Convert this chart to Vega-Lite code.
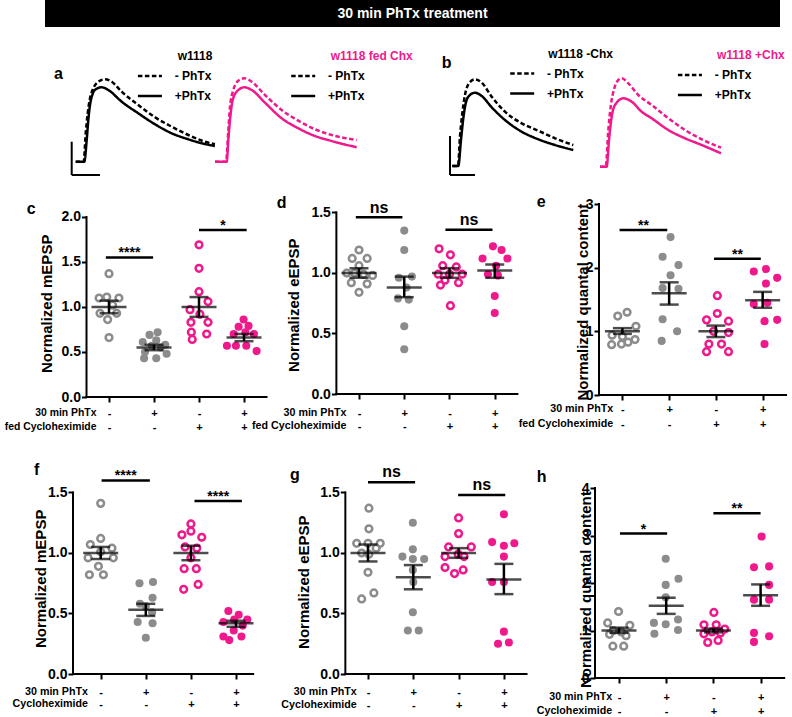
{
"$schema": "https://vega.github.io/schema/vega-lite/v6.json",
"background": "white",
"padding": 0,
"config": {
 "view": {"stroke": null},
 "font": "Liberation Sans",
 "axis": {"grid": false, "domain": false, "tickColor": "black", "tickWidth": 2, "tickSize": 5, "labelColor": "black", "labelFont": "Liberation Sans", "labelFontWeight": "bold", "titleColor": "black", "titleFont": "Liberation Sans", "titleFontWeight": "bold", "labelOverlap": false, "labelFlush": false},
 "legend": {"orient": "none", "titleFont": "Liberation Sans", "titleFontSize": 12, "titleFontWeight": "bold", "titleAnchor": "start", "titlePadding": -0.6, "labelFont": "Liberation Sans", "labelFontSize": 12, "labelFontWeight": "bold", "labelColor": "black", "labelOffset": 11.3, "symbolType": "stroke", "symbolSize": 576, "symbolStrokeWidth": 2.5, "symbolStrokeColor": "black", "rowPadding": -8.8}
},
"datasets": {
 "pts": [
  {"p":"c","g":1,"x":1.0,"y":1.37},{"p":"c","g":1,"x":0.78,"y":1.10},{"p":"c","g":1,"x":0.95,"y":1.11},{"p":"c","g":1,"x":1.22,"y":1.10},{"p":"c","g":1,"x":1.08,"y":1.02},{"p":"c","g":1,"x":0.80,"y":0.93},{"p":"c","g":1,"x":1.17,"y":0.93},{"p":"c","g":1,"x":0.97,"y":0.86},{"p":"c","g":1,"x":1.0,"y":0.66},
  {"p":"c","g":2,"x":2.08,"y":0.72},{"p":"c","g":2,"x":1.90,"y":0.69},{"p":"c","g":2,"x":2.05,"y":0.63},{"p":"c","g":2,"x":1.75,"y":0.61},{"p":"c","g":2,"x":2.25,"y":0.58},{"p":"c","g":2,"x":1.95,"y":0.57},{"p":"c","g":2,"x":2.15,"y":0.55},{"p":"c","g":2,"x":1.80,"y":0.50},{"p":"c","g":2,"x":2.28,"y":0.48},{"p":"c","g":2,"x":1.78,"y":0.43},{"p":"c","g":2,"x":2.05,"y":0.43},
  {"p":"c","g":3,"x":3.0,"y":1.69},{"p":"c","g":3,"x":3.0,"y":1.43},{"p":"c","g":3,"x":3.0,"y":1.17},{"p":"c","g":3,"x":3.2,"y":1.06},{"p":"c","g":3,"x":2.8,"y":0.97},{"p":"c","g":3,"x":3.02,"y":0.92},{"p":"c","g":3,"x":2.82,"y":0.83},{"p":"c","g":3,"x":3.2,"y":0.83},{"p":"c","g":3,"x":2.83,"y":0.72},{"p":"c","g":3,"x":3.17,"y":0.70},{"p":"c","g":3,"x":2.85,"y":0.64},
  {"p":"c","g":4,"x":3.99,"y":0.86},{"p":"c","g":4,"x":3.88,"y":0.78},{"p":"c","g":4,"x":4.1,"y":0.79},{"p":"c","g":4,"x":3.77,"y":0.70},{"p":"c","g":4,"x":4.03,"y":0.72},{"p":"c","g":4,"x":4.22,"y":0.70},{"p":"c","g":4,"x":3.62,"y":0.57},{"p":"c","g":4,"x":3.82,"y":0.57},{"p":"c","g":4,"x":4.05,"y":0.57},{"p":"c","g":4,"x":4.28,"y":0.51},
  {"p":"d","g":1,"x":1.0,"y":1.19},{"p":"d","g":1,"x":0.85,"y":1.12},{"p":"d","g":1,"x":1.18,"y":1.12},{"p":"d","g":1,"x":1.0,"y":1.06},{"p":"d","g":1,"x":0.73,"y":1.00},{"p":"d","g":1,"x":0.9,"y":1.00},{"p":"d","g":1,"x":1.1,"y":0.99},{"p":"d","g":1,"x":1.3,"y":0.98},{"p":"d","g":1,"x":0.83,"y":0.92},{"p":"d","g":1,"x":1.18,"y":0.91},{"p":"d","g":1,"x":1.0,"y":0.84},
  {"p":"d","g":2,"x":2.0,"y":1.35},{"p":"d","g":2,"x":2.0,"y":1.19},{"p":"d","g":2,"x":2.17,"y":0.97},{"p":"d","g":2,"x":1.88,"y":0.96},{"p":"d","g":2,"x":2.05,"y":0.88},{"p":"d","g":2,"x":1.86,"y":0.79},{"p":"d","g":2,"x":2.1,"y":0.78},{"p":"d","g":2,"x":2.0,"y":0.56},{"p":"d","g":2,"x":2.0,"y":0.37},
  {"p":"d","g":3,"x":2.77,"y":1.20},{"p":"d","g":3,"x":3.02,"y":1.15},{"p":"d","g":3,"x":2.85,"y":1.06},{"p":"d","g":3,"x":3.15,"y":1.05},{"p":"d","g":3,"x":2.75,"y":0.99},{"p":"d","g":3,"x":3.0,"y":0.99},{"p":"d","g":3,"x":3.28,"y":0.99},{"p":"d","g":3,"x":2.9,"y":0.94},{"p":"d","g":3,"x":3.2,"y":0.92},{"p":"d","g":3,"x":2.8,"y":0.90},{"p":"d","g":3,"x":3.02,"y":0.73},
  {"p":"d","g":4,"x":3.96,"y":1.22},{"p":"d","g":4,"x":4.15,"y":1.19},{"p":"d","g":4,"x":3.73,"y":1.12},{"p":"d","g":4,"x":4.28,"y":1.12},{"p":"d","g":4,"x":4.03,"y":1.06},{"p":"d","g":4,"x":3.85,"y":0.99},{"p":"d","g":4,"x":4.07,"y":0.98},{"p":"d","g":4,"x":4.0,"y":0.81},{"p":"d","g":4,"x":4.0,"y":0.67},
  {"p":"e","g":1,"x":1.1,"y":1.30},{"p":"e","g":1,"x":0.9,"y":1.24},{"p":"e","g":1,"x":1.29,"y":1.08},{"p":"e","g":1,"x":0.78,"y":0.94},{"p":"e","g":1,"x":1.0,"y":0.92},{"p":"e","g":1,"x":1.27,"y":0.87},{"p":"e","g":1,"x":1.12,"y":0.83},{"p":"e","g":1,"x":0.77,"y":0.79},{"p":"e","g":1,"x":0.98,"y":0.80},
  {"p":"e","g":2,"x":2.03,"y":2.48},{"p":"e","g":2,"x":1.86,"y":2.17},{"p":"e","g":2,"x":2.2,"y":2.04},{"p":"e","g":2,"x":2.03,"y":1.88},{"p":"e","g":2,"x":2.2,"y":1.67},{"p":"e","g":2,"x":1.86,"y":1.68},{"p":"e","g":2,"x":1.86,"y":1.19},{"p":"e","g":2,"x":2.17,"y":1.00},{"p":"e","g":2,"x":1.84,"y":0.85},
  {"p":"e","g":3,"x":3.03,"y":1.56},{"p":"e","g":3,"x":3.03,"y":1.28},{"p":"e","g":3,"x":2.8,"y":1.18},{"p":"e","g":3,"x":3.27,"y":1.16},{"p":"e","g":3,"x":2.95,"y":1.0},{"p":"e","g":3,"x":3.27,"y":0.98},{"p":"e","g":3,"x":2.85,"y":0.80},{"p":"e","g":3,"x":3.12,"y":0.80},{"p":"e","g":3,"x":2.8,"y":0.68},{"p":"e","g":3,"x":3.27,"y":0.68},
  {"p":"e","g":4,"x":3.81,"y":1.94},{"p":"e","g":4,"x":4.07,"y":1.98},{"p":"e","g":4,"x":4.31,"y":1.84},{"p":"e","g":4,"x":4.07,"y":1.75},{"p":"e","g":4,"x":3.81,"y":1.43},{"p":"e","g":4,"x":4.1,"y":1.45},{"p":"e","g":4,"x":4.31,"y":1.18},{"p":"e","g":4,"x":4.04,"y":1.16},{"p":"e","g":4,"x":4.04,"y":0.80},
  {"p":"f","g":1,"x":1.0,"y":1.41},{"p":"f","g":1,"x":1.0,"y":1.12},{"p":"f","g":1,"x":0.77,"y":1.07},{"p":"f","g":1,"x":1.25,"y":1.04},{"p":"f","g":1,"x":1.0,"y":1.01},{"p":"f","g":1,"x":0.72,"y":0.96},{"p":"f","g":1,"x":1.28,"y":0.96},{"p":"f","g":1,"x":0.95,"y":0.89},{"p":"f","g":1,"x":0.75,"y":0.82},{"p":"f","g":1,"x":1.06,"y":0.82},
  {"p":"f","g":2,"x":1.86,"y":0.75},{"p":"f","g":2,"x":2.16,"y":0.76},{"p":"f","g":2,"x":2.15,"y":0.63},{"p":"f","g":2,"x":1.87,"y":0.58},{"p":"f","g":2,"x":2.0,"y":0.56},{"p":"f","g":2,"x":2.14,"y":0.51},{"p":"f","g":2,"x":1.82,"y":0.43},{"p":"f","g":2,"x":2.15,"y":0.42},{"p":"f","g":2,"x":2.0,"y":0.30},
  {"p":"f","g":3,"x":3.0,"y":1.24},{"p":"f","g":3,"x":3.0,"y":1.18},{"p":"f","g":3,"x":2.8,"y":1.15},{"p":"f","g":3,"x":3.24,"y":1.13},{"p":"f","g":3,"x":2.87,"y":1.05},{"p":"f","g":3,"x":3.13,"y":1.04},{"p":"f","g":3,"x":3.0,"y":0.96},{"p":"f","g":3,"x":2.85,"y":0.87},{"p":"f","g":3,"x":3.12,"y":0.87},{"p":"f","g":3,"x":3.16,"y":0.74},{"p":"f","g":3,"x":2.84,"y":0.70},
  {"p":"f","g":4,"x":3.83,"y":0.52},{"p":"f","g":4,"x":4.06,"y":0.49},{"p":"f","g":4,"x":4.25,"y":0.45},{"p":"f","g":4,"x":3.96,"y":0.45},{"p":"f","g":4,"x":3.72,"y":0.43},{"p":"f","g":4,"x":4.15,"y":0.40},{"p":"f","g":4,"x":3.95,"y":0.36},{"p":"f","g":4,"x":3.72,"y":0.31},{"p":"f","g":4,"x":4.12,"y":0.31},{"p":"f","g":4,"x":3.85,"y":0.28},
  {"p":"g","g":1,"x":1.02,"y":1.37},{"p":"g","g":1,"x":1.02,"y":1.20},{"p":"g","g":1,"x":0.75,"y":1.08},{"p":"g","g":1,"x":1.0,"y":1.08},{"p":"g","g":1,"x":1.27,"y":1.08},{"p":"g","g":1,"x":1.18,"y":1.04},{"p":"g","g":1,"x":0.86,"y":1.00},{"p":"g","g":1,"x":1.02,"y":0.99},{"p":"g","g":1,"x":1.0,"y":0.84},{"p":"g","g":1,"x":1.13,"y":0.67},{"p":"g","g":1,"x":0.86,"y":0.62},
  {"p":"g","g":2,"x":1.99,"y":1.25},{"p":"g","g":2,"x":1.99,"y":1.03},{"p":"g","g":2,"x":1.76,"y":0.97},{"p":"g","g":2,"x":1.99,"y":0.95},{"p":"g","g":2,"x":2.24,"y":0.95},{"p":"g","g":2,"x":1.99,"y":0.86},{"p":"g","g":2,"x":2.0,"y":0.76},{"p":"g","g":2,"x":1.99,"y":0.51},{"p":"g","g":2,"x":1.88,"y":0.36},{"p":"g","g":2,"x":2.12,"y":0.36},
  {"p":"g","g":3,"x":3.0,"y":1.29},{"p":"g","g":3,"x":3.0,"y":1.16},{"p":"g","g":3,"x":2.78,"y":1.05},{"p":"g","g":3,"x":3.28,"y":1.05},{"p":"g","g":3,"x":2.99,"y":0.99},{"p":"g","g":3,"x":2.7,"y":0.97},{"p":"g","g":3,"x":3.12,"y":0.97},{"p":"g","g":3,"x":2.7,"y":0.88},{"p":"g","g":3,"x":2.91,"y":0.83},{"p":"g","g":3,"x":3.1,"y":0.86},
  {"p":"g","g":4,"x":4.0,"y":1.32},{"p":"g","g":4,"x":3.74,"y":1.09},{"p":"g","g":4,"x":4.0,"y":1.06},{"p":"g","g":4,"x":4.23,"y":1.08},{"p":"g","g":4,"x":4.0,"y":0.97},{"p":"g","g":4,"x":3.74,"y":0.76},{"p":"g","g":4,"x":4.0,"y":0.76},{"p":"g","g":4,"x":4.0,"y":0.35},{"p":"g","g":4,"x":3.87,"y":0.25},{"p":"g","g":4,"x":4.11,"y":0.26},
  {"p":"h","g":1,"x":0.99,"y":1.40},{"p":"h","g":1,"x":0.76,"y":1.16},{"p":"h","g":1,"x":1.23,"y":1.11},{"p":"h","g":1,"x":0.88,"y":1.0},{"p":"h","g":1,"x":1.05,"y":0.97},{"p":"h","g":1,"x":1.15,"y":0.89},{"p":"h","g":1,"x":0.87,"y":0.67},{"p":"h","g":1,"x":1.1,"y":0.67},{"p":"h","g":1,"x":0.8,"y":0.92},
  {"p":"h","g":2,"x":1.99,"y":2.51},{"p":"h","g":2,"x":2.26,"y":2.09},{"p":"h","g":2,"x":1.99,"y":1.96},{"p":"h","g":2,"x":1.99,"y":1.70},{"p":"h","g":2,"x":1.74,"y":1.16},{"p":"h","g":2,"x":1.99,"y":1.13},{"p":"h","g":2,"x":2.25,"y":1.23},{"p":"h","g":2,"x":1.75,"y":0.93},{"p":"h","g":2,"x":2.25,"y":1.01},
  {"p":"h","g":3,"x":3.01,"y":1.38},{"p":"h","g":3,"x":2.8,"y":1.12},{"p":"h","g":3,"x":3.06,"y":1.12},{"p":"h","g":3,"x":3.24,"y":1.03},{"p":"h","g":3,"x":2.8,"y":0.93},{"p":"h","g":3,"x":2.97,"y":0.97},{"p":"h","g":3,"x":3.15,"y":0.95},{"p":"h","g":3,"x":2.88,"y":0.75},{"p":"h","g":3,"x":3.1,"y":0.79},
  {"p":"h","g":4,"x":4.02,"y":2.98},{"p":"h","g":4,"x":3.86,"y":2.33},{"p":"h","g":4,"x":4.18,"y":2.35},{"p":"h","g":4,"x":4.18,"y":1.96},{"p":"h","g":4,"x":3.86,"y":1.65},{"p":"h","g":4,"x":4.18,"y":1.65},{"p":"h","g":4,"x":3.86,"y":0.95},{"p":"h","g":4,"x":3.86,"y":0.76},{"p":"h","g":4,"x":4.18,"y":0.88}
 ],
 "stats": [
  {"p":"c","g":1,"m":1.0,"lo":0.93,"hi":1.07},{"p":"c","g":2,"m":0.55,"lo":0.52,"hi":0.58},{"p":"c","g":3,"m":1.0,"lo":0.89,"hi":1.11},{"p":"c","g":4,"m":0.66,"lo":0.62,"hi":0.70},
  {"p":"d","g":1,"m":1.0,"lo":0.96,"hi":1.04},{"p":"d","g":2,"m":0.88,"lo":0.80,"hi":0.97},{"p":"d","g":3,"m":1.0,"lo":0.96,"hi":1.04},{"p":"d","g":4,"m":1.02,"lo":0.96,"hi":1.07},
  {"p":"e","g":1,"m":1.0,"lo":0.96,"hi":1.05},{"p":"e","g":2,"m":1.60,"lo":1.42,"hi":1.77},{"p":"e","g":3,"m":1.0,"lo":0.91,"hi":1.09},{"p":"e","g":4,"m":1.49,"lo":1.37,"hi":1.62},
  {"p":"f","g":1,"m":1.0,"lo":0.95,"hi":1.05},{"p":"f","g":2,"m":0.53,"lo":0.48,"hi":0.58},{"p":"f","g":3,"m":1.0,"lo":0.94,"hi":1.06},{"p":"f","g":4,"m":0.42,"lo":0.39,"hi":0.44},
  {"p":"g","g":1,"m":1.0,"lo":0.93,"hi":1.07},{"p":"g","g":2,"m":0.80,"lo":0.70,"hi":0.90},{"p":"g","g":3,"m":1.0,"lo":0.96,"hi":1.04},{"p":"g","g":4,"m":0.78,"lo":0.66,"hi":0.91},
  {"p":"h","g":1,"m":1.0,"lo":0.95,"hi":1.06},{"p":"h","g":2,"m":1.52,"lo":1.35,"hi":1.69},{"p":"h","g":3,"m":1.0,"lo":0.96,"hi":1.04},{"p":"h","g":4,"m":1.74,"lo":1.52,"hi":1.97}
 ],
 "sig": [
  {"p":"c","x1":0.93,"x2":1.98,"xm":1.455,"y":1.55,"s":"****"},{"p":"c","x1":3.0,"x2":4.06,"xm":3.53,"y":1.855,"s":"*"},
  {"p":"d","x1":0.93,"x2":1.96,"xm":1.445,"y":1.46,"s":"ns"},{"p":"d","x1":2.91,"x2":3.95,"xm":3.43,"y":1.357,"s":"ns"},
  {"p":"e","x1":0.94,"x2":1.96,"xm":1.45,"y":2.59,"s":"**"},{"p":"e","x1":2.96,"x2":3.96,"xm":3.46,"y":2.14,"s":"**"},
  {"p":"f","x1":1.02,"x2":2.09,"xm":1.555,"y":1.60,"s":"****"},{"p":"f","x1":3.08,"x2":4.13,"xm":3.605,"y":1.43,"s":"****"},
  {"p":"g","x1":1.0,"x2":2.04,"xm":1.52,"y":1.585,"s":"ns"},{"p":"g","x1":2.99,"x2":4.03,"xm":3.51,"y":1.48,"s":"ns"},
  {"p":"h","x1":1.02,"x2":2.02,"xm":1.52,"y":3.04,"s":"*"},{"p":"h","x1":3.0,"x2":4.0,"xm":3.5,"y":3.47,"s":"**"}
 ],
 "tr": [
  {"p":"a1","cond":"+PhTx","t":0,"v":0},{"p":"a1","cond":"+PhTx","t":2.15,"v":0},{"p":"a1","cond":"+PhTx","t":2.75,"v":10.85},{"p":"a1","cond":"+PhTx","t":3.15,"v":20.85},{"p":"a1","cond":"+PhTx","t":3.58,"v":28.35},{"p":"a1","cond":"+PhTx","t":4.15,"v":33.35},{"p":"a1","cond":"+PhTx","t":5.0,"v":36.2},{"p":"a1","cond":"+PhTx","t":6.5,"v":37.2},{"p":"a1","cond":"+PhTx","t":8.15,"v":35.85},{"p":"a1","cond":"+PhTx","t":11.5,"v":30},{"p":"a1","cond":"+PhTx","t":15.65,"v":24.2},{"p":"a1","cond":"+PhTx","t":19.83,"v":18.7},{"p":"a1","cond":"+PhTx","t":24,"v":14.2},{"p":"a1","cond":"+PhTx","t":28.15,"v":11.2},{"p":"a1","cond":"+PhTx","t":32.3,"v":8.85},{"p":"a1","cond":"+PhTx","t":34.8,"v":7.85},
  {"p":"a1","cond":"- PhTx","t":0,"v":0},{"p":"a1","cond":"- PhTx","t":2.0,"v":0},{"p":"a1","cond":"- PhTx","t":2.5,"v":14.2},{"p":"a1","cond":"- PhTx","t":3.0,"v":24.2},{"p":"a1","cond":"- PhTx","t":3.58,"v":31.7},{"p":"a1","cond":"- PhTx","t":4.4,"v":36.7},{"p":"a1","cond":"- PhTx","t":5.65,"v":40},{"p":"a1","cond":"- PhTx","t":7.33,"v":41.2},{"p":"a1","cond":"- PhTx","t":9.0,"v":40},{"p":"a1","cond":"- PhTx","t":11.5,"v":35},{"p":"a1","cond":"- PhTx","t":15.65,"v":28.35},{"p":"a1","cond":"- PhTx","t":19.83,"v":22.2},{"p":"a1","cond":"- PhTx","t":24,"v":17.5},{"p":"a1","cond":"- PhTx","t":28.15,"v":13.35},{"p":"a1","cond":"- PhTx","t":32.3,"v":10},{"p":"a1","cond":"- PhTx","t":34.8,"v":8.7},
  {"p":"a2","cond":"+PhTx","t":0,"v":0},{"p":"a2","cond":"+PhTx","t":2.92,"v":0},{"p":"a2","cond":"+PhTx","t":3.33,"v":10.85},{"p":"a2","cond":"+PhTx","t":3.75,"v":20.85},{"p":"a2","cond":"+PhTx","t":4.33,"v":30},{"p":"a2","cond":"+PhTx","t":5.42,"v":35},{"p":"a2","cond":"+PhTx","t":7.33,"v":37.2},{"p":"a2","cond":"+PhTx","t":9.17,"v":35.85},{"p":"a2","cond":"+PhTx","t":12.5,"v":29.5},{"p":"a2","cond":"+PhTx","t":16.67,"v":21.7},{"p":"a2","cond":"+PhTx","t":20.83,"v":16.7},{"p":"a2","cond":"+PhTx","t":25,"v":12.85},{"p":"a2","cond":"+PhTx","t":29.17,"v":10.35},{"p":"a2","cond":"+PhTx","t":35.42,"v":7.2},
  {"p":"a2","cond":"- PhTx","t":0,"v":0},{"p":"a2","cond":"- PhTx","t":2.75,"v":0},{"p":"a2","cond":"- PhTx","t":3.33,"v":15.85},{"p":"a2","cond":"- PhTx","t":3.75,"v":27.5},{"p":"a2","cond":"- PhTx","t":4.58,"v":35.85},{"p":"a2","cond":"- PhTx","t":5.83,"v":40.5},{"p":"a2","cond":"- PhTx","t":7.33,"v":41.7},{"p":"a2","cond":"- PhTx","t":9.17,"v":40},{"p":"a2","cond":"- PhTx","t":12.5,"v":33.35},{"p":"a2","cond":"- PhTx","t":16.67,"v":25.85},{"p":"a2","cond":"- PhTx","t":20.83,"v":20.5},{"p":"a2","cond":"- PhTx","t":25,"v":16.2},{"p":"a2","cond":"- PhTx","t":29.17,"v":13.35},{"p":"a2","cond":"- PhTx","t":35.42,"v":10.85},
  {"p":"b1","cond":"+PhTx","t":0,"v":0},{"p":"b1","cond":"+PhTx","t":1.5,"v":0},{"p":"b1","cond":"+PhTx","t":2.17,"v":13},{"p":"b1","cond":"+PhTx","t":2.75,"v":23.85},{"p":"b1","cond":"+PhTx","t":3.35,"v":31.35},{"p":"b1","cond":"+PhTx","t":4.17,"v":35},{"p":"b1","cond":"+PhTx","t":5.67,"v":36.65},{"p":"b1","cond":"+PhTx","t":7.35,"v":35},{"p":"b1","cond":"+PhTx","t":9.85,"v":29.35},{"p":"b1","cond":"+PhTx","t":13.17,"v":23},{"p":"b1","cond":"+PhTx","t":17.35,"v":17.15},{"p":"b1","cond":"+PhTx","t":21.5,"v":13.35},{"p":"b1","cond":"+PhTx","t":25.67,"v":10.5},{"p":"b1","cond":"+PhTx","t":30.25,"v":8},
  {"p":"b1","cond":"- PhTx","t":0,"v":0},{"p":"b1","cond":"- PhTx","t":1.42,"v":0},{"p":"b1","cond":"- PhTx","t":1.92,"v":14.65},{"p":"b1","cond":"- PhTx","t":2.5,"v":26.35},{"p":"b1","cond":"- PhTx","t":3.17,"v":35.5},{"p":"b1","cond":"- PhTx","t":4.17,"v":41.35},{"p":"b1","cond":"- PhTx","t":5.67,"v":43.35},{"p":"b1","cond":"- PhTx","t":7.35,"v":41.65},{"p":"b1","cond":"- PhTx","t":9.85,"v":34.65},{"p":"b1","cond":"- PhTx","t":13.17,"v":27.15},{"p":"b1","cond":"- PhTx","t":17.35,"v":21.35},{"p":"b1","cond":"- PhTx","t":21.5,"v":17.65},{"p":"b1","cond":"- PhTx","t":25.67,"v":13.85},{"p":"b1","cond":"- PhTx","t":30.25,"v":10.5},
  {"p":"b2","cond":"+PhTx","t":0,"v":0},{"p":"b2","cond":"+PhTx","t":1.67,"v":0},{"p":"b2","cond":"+PhTx","t":2.25,"v":13.35},{"p":"b2","cond":"+PhTx","t":2.92,"v":25},{"p":"b2","cond":"+PhTx","t":3.75,"v":30.85},{"p":"b2","cond":"+PhTx","t":5.83,"v":34.2},{"p":"b2","cond":"+PhTx","t":7.92,"v":32.5},{"p":"b2","cond":"+PhTx","t":10.42,"v":27.5},{"p":"b2","cond":"+PhTx","t":12.92,"v":24.2},{"p":"b2","cond":"+PhTx","t":17.08,"v":18.35},{"p":"b2","cond":"+PhTx","t":21.25,"v":14.2},{"p":"b2","cond":"+PhTx","t":25.42,"v":10.85},{"p":"b2","cond":"+PhTx","t":30.25,"v":6.7},
  {"p":"b2","cond":"- PhTx","t":0,"v":0},{"p":"b2","cond":"- PhTx","t":1.42,"v":0},{"p":"b2","cond":"- PhTx","t":2.08,"v":18.35},{"p":"b2","cond":"- PhTx","t":2.67,"v":30},{"p":"b2","cond":"- PhTx","t":3.58,"v":39.2},{"p":"b2","cond":"- PhTx","t":4.58,"v":43.35},{"p":"b2","cond":"- PhTx","t":5.42,"v":44.2},{"p":"b2","cond":"- PhTx","t":7.08,"v":41.7},{"p":"b2","cond":"- PhTx","t":9.58,"v":35.85},{"p":"b2","cond":"- PhTx","t":12.92,"v":30.85},{"p":"b2","cond":"- PhTx","t":17.08,"v":24.2},{"p":"b2","cond":"- PhTx","t":21.25,"v":18.35},{"p":"b2","cond":"- PhTx","t":25.42,"v":13.7},{"p":"b2","cond":"- PhTx","t":30.25,"v":9.5}
 ],
 "sb": [
  {"p":"a1","t1":-1,"t2":-1,"v1":-6.65,"v2":10},{"p":"a1","t1":-1,"t2":6.08,"v1":-6.65,"v2":-6.65},
  {"p":"b1","t1":-0.575,"t2":-0.575,"v1":-4.5,"v2":15},{"p":"b1","t1":-0.575,"t2":5.675,"v1":-4.5,"v2":-4.5}
 ]
},
"columns": 5,
"spacing": 0,
"bounds": "flush",
"align": "each",
"resolve": {"scale": {"x": "independent", "y": "independent", "strokeDash": "independent"}, "legend": {"strokeDash": "independent"}},
"concat": [
 {"width": 45, "height": 27, "data": {"values": []}, "mark": "point"},
 {"width": 28, "height": 27, "view": {"fill": "black"}, "data": {"values": []}, "mark": "point"},
 {"width": 263, "height": 27, "view": {"fill": "black"}, "data": {"values": []}, "mark": "point"},
 {"width": 259, "height": 27, "view": {"fill": "black"}, "data": {"values": [{"label": "30 min PhTx treatment"}]},
  "mark": {"type": "text", "color": "white", "fontSize": 14, "fontWeight": "bold", "font": "Liberation Sans", "baseline": "middle", "dx": -53},
  "encoding": {"x": {"datum": 0.5, "type": "quantitative", "scale": {"domain": [0, 1], "nice": false}, "axis": null}, "y": {"datum": 0.5, "type": "quantitative", "scale": {"domain": [0, 1], "nice": false}, "axis": null}, "text": {"field": "label"}}},
 {"width": 185, "height": 27, "view": {"fill": "black"}, "data": {"values": []}, "mark": "point"},

 {"width": 45, "height": 177, "data": {"values": []}, "mark": "point"},
 {"width": 28, "height": 177,
  "title": {"text": "a", "anchor": "start", "frame": "group", "dx": 9, "dy": 68, "offset": 0, "baseline": "alphabetic", "fontSize": 16, "fontWeight": "bold", "font": "Liberation Sans", "color": "black"},
  "layer": [
   {"data": {"name": "tr"}, "transform": [{"filter": "datum.p=='a1'"}],
    "mark": {"type": "line", "color": "black", "strokeWidth": 2.5, "interpolate": "monotone", "clip": false},
    "encoding": {
     "x": {"field": "t", "type": "quantitative", "scale": {"domain": [-7.675, -0.675], "nice": false, "zero": false}, "axis": null},
     "y": {"field": "v", "type": "quantitative", "scale": {"domain": [-21.15, 67.35], "nice": false, "zero": false}, "axis": null},
     "strokeDash": {"field": "cond", "type": "nominal", "scale": {"domain": ["- PhTx", "+PhTx"], "range": [[4.5, 2.5], [1, 0]]},
      "legend": {"title": "w1118", "orient": "none", "legendX": 91.4, "legendY": 24, "titleColor": "black", "encode": {"title": {"update": {"dx": {"value": 41.3}}}, "symbols": {"update": {"stroke": {"value": "black"}}}}}}
    }},
   {"data": {"name": "sb"}, "transform": [{"filter": "datum.p=='a1'"}], "mark": {"type": "rule", "color": "black", "strokeWidth": 2},
    "encoding": {"x": {"field": "t1", "type": "quantitative"}, "x2": {"field": "t2"}, "y": {"field": "v1", "type": "quantitative"}, "y2": {"field": "v2"}}}
  ]},
 {"width": 263, "height": 177,
  "layer": [
   {"data": {"name": "tr"}, "transform": [{"filter": "datum.p=='a2'"}],
    "mark": {"type": "line", "color": "#f0198c", "strokeWidth": 2.5, "interpolate": "monotone"},
    "encoding": {
     "x": {"field": "t", "type": "quantitative", "scale": {"domain": [-35.5, 30.25], "nice": false, "zero": false}, "axis": null},
     "y": {"field": "v", "type": "quantitative", "scale": {"domain": [-21.15, 67.35], "nice": false, "zero": false}, "axis": null},
     "strokeDash": {"field": "cond", "type": "nominal", "scale": {"domain": ["- PhTx", "+PhTx"], "range": [[4.5, 2.5], [1, 0]]},
      "legend": {"title": "w1118 fed Chx", "orient": "none", "legendX": 216.7, "legendY": 24, "titleColor": "#f0198c", "encode": {"title": {"update": {"dx": {"value": 41}}}, "symbols": {"update": {"stroke": {"value": "black"}}}}}}
    }}
  ]},
 {"width": 259, "height": 177,
  "title": {"text": "b", "anchor": "start", "frame": "group", "dx": 105.7, "dy": 57, "offset": 0, "baseline": "alphabetic", "fontSize": 16, "fontWeight": "bold", "font": "Liberation Sans", "color": "black"},
  "layer": [
   {"data": {"name": "tr"}, "transform": [{"filter": "datum.p=='b1'"}],
    "mark": {"type": "line", "color": "black", "strokeWidth": 2.5, "interpolate": "monotone"},
    "encoding": {
     "x": {"field": "t", "type": "quantitative", "scale": {"domain": [-29.075, 35.675], "nice": false, "zero": false}, "axis": null},
     "y": {"field": "v", "type": "quantitative", "scale": {"domain": [-19, 69.5], "nice": false, "zero": false}, "axis": null},
     "strokeDash": {"field": "cond", "type": "nominal", "scale": {"domain": ["- PhTx", "+PhTx"], "range": [[4.5, 2.5], [1, 0]]},
      "legend": {"title": "w1118 -Chx", "orient": "none", "legendX": 172.7, "legendY": 21.7, "titleColor": "black", "encode": {"title": {"update": {"dx": {"value": 39.5}}}, "symbols": {"update": {"stroke": {"value": "black"}}}}}}
    }},
   {"data": {"name": "sb"}, "transform": [{"filter": "datum.p=='b1'"}], "mark": {"type": "rule", "color": "black", "strokeWidth": 2},
    "encoding": {"x": {"field": "t1", "type": "quantitative"}, "x2": {"field": "t2"}, "y": {"field": "v1", "type": "quantitative"}, "y2": {"field": "v2"}}}
  ]},
 {"width": 185, "height": 177,
  "layer": [
   {"data": {"name": "tr"}, "transform": [{"filter": "datum.p=='b2'"}],
    "mark": {"type": "line", "color": "#f0198c", "strokeWidth": 2.5, "interpolate": "monotone"},
    "encoding": {
     "x": {"field": "t", "type": "quantitative", "scale": {"domain": [-1.25, 45], "nice": false, "zero": false}, "axis": null},
     "y": {"field": "v", "type": "quantitative", "scale": {"domain": [-18.65, 69.85], "nice": false, "zero": false}, "axis": null},
     "strokeDash": {"field": "cond", "type": "nominal", "scale": {"domain": ["- PhTx", "+PhTx"], "range": [[4.5, 2.5], [1, 0]]},
      "legend": {"title": "w1118 +Chx", "orient": "none", "legendX": 81.4, "legendY": 23, "titleColor": "#f0198c", "encode": {"title": {"update": {"dx": {"value": 40.6}}}, "symbols": {"update": {"stroke": {"value": "black"}}}}}}
    }}
  ]},

 {"width": 45, "height": 1, "data": {"values": []}, "mark": "point"},
 {"width": 28, "height": 1, "data": {"values": []}, "mark": "point"},
 {"width": 263, "height": 193,
  "title": {"text": "c", "anchor": "start", "frame": "group", "dx": -46.3, "dy": 25.9, "offset": 0, "baseline": "alphabetic", "fontSize": 16, "fontWeight": "bold", "font": "Liberation Sans", "color": "black"},
  "layer": [
   {"data": {"values": [{"k": 0}]}, "mark": {"type": "rule", "color": "black", "strokeWidth": 2, "strokeCap": "square"}, "encoding": {"x": {"datum": 0.5, "type": "quantitative"}, "y": {"datum": 0, "type": "quantitative"}, "y2": {"datum": 2}}},
   {"data": {"values": [{"k": 0}]}, "mark": {"type": "rule", "color": "black", "strokeWidth": 2, "strokeCap": "square"}, "encoding": {"x": {"datum": 0.5, "type": "quantitative"}, "x2": {"datum": 4.5}, "y": {"datum": 0, "type": "quantitative"}}},
   {"data": {"name": "pts"}, "transform": [{"filter": "datum.p=='c' && (datum.g==1 || datum.g==3)"}],
    "mark": {"type": "point", "shape": "circle", "filled": false, "strokeWidth": 2.5, "size": 45, "opacity": 1},
    "encoding": {
     "x": {"field": "x", "type": "quantitative", "scale": {"domain": [0.2, 6.044], "nice": false, "zero": false},
      "axis": {"values": [1, 2, 3, 4], "labelExpr": "datum.value==1?['-','-']:datum.value==2?['+','-']:datum.value==3?['-','+']:['+','+']", "labelFontSize": 11, "labelPadding": 5.6, "labelLineHeight": 13.7, "title": ["30 min PhTx", "fed Cycloheximide"], "titleFontSize": 10.4, "titleLineHeight": 13.7, "titleAlign": "right", "titleBaseline": "top", "titleX": 23, "titleY": 10.6}},
     "y": {"field": "y", "type": "quantitative", "scale": {"domain": [0, 2.144], "nice": false, "zero": false},
      "axis": {"values": [0, 0.5, 1, 1.5, 2], "format": ".1f", "offset": -13.5, "labelFontSize": 14, "labelPadding": 1, "title": "Normalized mEPSP", "titleFontSize": 15, "titleX": -40, "titleY": 99.3, "titleBaseline": "middle", "titleAlign": "center", "titleAngle": 270}},
     "color": {"field": "g", "type": "ordinal", "scale": {"domain": [1, 2, 3, 4], "range": ["#8c8c8c", "#8c8c8c", "#f0198c", "#f0198c"]}, "legend": null}
    }},
   {"data": {"name": "pts"}, "transform": [{"filter": "datum.p=='c' && (datum.g==2 || datum.g==4)"}], "mark": {"type": "circle", "size": 65, "opacity": 1},
    "encoding": {"x": {"field": "x", "type": "quantitative"}, "y": {"field": "y", "type": "quantitative"}, "color": {"field": "g", "type": "ordinal", "legend": null}}},
   {"data": {"name": "sig"}, "transform": [{"filter": "datum.p=='c'"}], "mark": {"type": "rule", "color": "black", "strokeWidth": 2.5}, "encoding": {"x": {"field": "x1", "type": "quantitative"}, "x2": {"field": "x2"}, "y": {"field": "y", "type": "quantitative"}}},
   {"data": {"name": "sig"}, "transform": [{"filter": "datum.p=='c' && datum.s!='ns'"}], "mark": {"type": "text", "fontSize": 14, "fontWeight": "bold", "baseline": "alphabetic", "dy": 0, "color": "black"}, "encoding": {"x": {"field": "xm", "type": "quantitative"}, "y": {"field": "y", "type": "quantitative"}, "text": {"field": "s"}}},
   {"data": {"name": "stats"}, "transform": [{"filter": "datum.p=='c'"}], "mark": {"type": "rule", "color": "black", "strokeWidth": 2.5}, "encoding": {"x": {"field": "g", "type": "quantitative"}, "y": {"field": "lo", "type": "quantitative"}, "y2": {"field": "hi"}}},
   {"data": {"name": "stats"}, "transform": [{"filter": "datum.p=='c'"}], "mark": {"type": "tick", "orient": "horizontal", "size": 35, "thickness": 2.5, "color": "black"}, "encoding": {"x": {"field": "g", "type": "quantitative"}, "y": {"field": "m", "type": "quantitative"}}},
   {"data": {"name": "stats"}, "transform": [{"filter": "datum.p=='c'"}], "mark": {"type": "tick", "orient": "horizontal", "size": 19, "thickness": 2.5, "color": "black"}, "encoding": {"x": {"field": "g", "type": "quantitative"}, "y": {"field": "lo", "type": "quantitative"}}},
   {"data": {"name": "stats"}, "transform": [{"filter": "datum.p=='c'"}], "mark": {"type": "tick", "orient": "horizontal", "size": 19, "thickness": 2.5, "color": "black"}, "encoding": {"x": {"field": "g", "type": "quantitative"}, "y": {"field": "hi", "type": "quantitative"}}}
  ]},
 {"width": 259, "height": 190,
  "title": {"text": "d", "anchor": "start", "frame": "group", "dx": -59.3, "dy": 24.3, "offset": 0, "baseline": "alphabetic", "fontSize": 16, "fontWeight": "bold", "font": "Liberation Sans", "color": "black"},
  "layer": [
   {"data": {"values": [{"k": 0}]}, "mark": {"type": "rule", "color": "black", "strokeWidth": 2, "strokeCap": "square"}, "encoding": {"x": {"datum": 0.5, "type": "quantitative"}, "y": {"datum": 0, "type": "quantitative"}, "y2": {"datum": 1.5}}},
   {"data": {"values": [{"k": 0}]}, "mark": {"type": "rule", "color": "black", "strokeWidth": 2, "strokeCap": "square"}, "encoding": {"x": {"datum": 0.5, "type": "quantitative"}, "x2": {"datum": 4.5}, "y": {"datum": 0, "type": "quantitative"}}},
   {"data": {"name": "pts"}, "transform": [{"filter": "datum.p=='d' && (datum.g==1 || datum.g==3)"}],
    "mark": {"type": "point", "shape": "circle", "filled": false, "strokeWidth": 2.5, "size": 45, "opacity": 1},
    "encoding": {
     "x": {"field": "x", "type": "quantitative", "scale": {"domain": [0.4917, 6.2155], "nice": false, "zero": false},
      "axis": {"values": [1, 2, 3, 4], "labelExpr": "datum.value==1?['-','-']:datum.value==2?['+','-']:datum.value==3?['-','+']:['+','+']", "labelFontSize": 11, "labelPadding": 8, "labelLineHeight": 13.7, "title": ["30 min PhTx", "fed Cycloheximide"], "titleFontSize": 10.7, "titleLineHeight": 13.7, "titleAlign": "right", "titleBaseline": "top", "titleX": 10, "titleY": 13}},
     "y": {"field": "y", "type": "quantitative", "scale": {"domain": [0, 1.570], "nice": false, "zero": false},
      "axis": {"values": [0, 0.5, 1, 1.5], "format": ".1f", "offset": -0.4, "labelFontSize": 14, "labelPadding": 1, "title": "Normalized eEPSP", "titleFontSize": 15, "titleX": -43.2, "titleY": 100.7, "titleBaseline": "middle", "titleAlign": "center", "titleAngle": 270}},
     "color": {"field": "g", "type": "ordinal", "legend": null}
    }},
   {"data": {"name": "pts"}, "transform": [{"filter": "datum.p=='d' && (datum.g==2 || datum.g==4)"}], "mark": {"type": "circle", "size": 65, "opacity": 1},
    "encoding": {"x": {"field": "x", "type": "quantitative"}, "y": {"field": "y", "type": "quantitative"}, "color": {"field": "g", "type": "ordinal", "legend": null}}},
   {"data": {"name": "sig"}, "transform": [{"filter": "datum.p=='d'"}], "mark": {"type": "rule", "color": "black", "strokeWidth": 2.5}, "encoding": {"x": {"field": "x1", "type": "quantitative"}, "x2": {"field": "x2"}, "y": {"field": "y", "type": "quantitative"}}},
   {"data": {"name": "sig"}, "transform": [{"filter": "datum.p=='d' && datum.s=='ns'"}], "mark": {"type": "text", "fontSize": 16, "fontWeight": "bold", "baseline": "alphabetic", "dy": -4.8, "color": "black"}, "encoding": {"x": {"field": "xm", "type": "quantitative"}, "y": {"field": "y", "type": "quantitative"}, "text": {"field": "s"}}},
   {"data": {"name": "stats"}, "transform": [{"filter": "datum.p=='d'"}], "mark": {"type": "rule", "color": "black", "strokeWidth": 2.5}, "encoding": {"x": {"field": "g", "type": "quantitative"}, "y": {"field": "lo", "type": "quantitative"}, "y2": {"field": "hi"}}},
   {"data": {"name": "stats"}, "transform": [{"filter": "datum.p=='d'"}], "mark": {"type": "tick", "orient": "horizontal", "size": 35, "thickness": 2.5, "color": "black"}, "encoding": {"x": {"field": "g", "type": "quantitative"}, "y": {"field": "m", "type": "quantitative"}}},
   {"data": {"name": "stats"}, "transform": [{"filter": "datum.p=='d'"}], "mark": {"type": "tick", "orient": "horizontal", "size": 19, "thickness": 2.5, "color": "black"}, "encoding": {"x": {"field": "g", "type": "quantitative"}, "y": {"field": "lo", "type": "quantitative"}}},
   {"data": {"name": "stats"}, "transform": [{"filter": "datum.p=='d'"}], "mark": {"type": "tick", "orient": "horizontal", "size": 19, "thickness": 2.5, "color": "black"}, "encoding": {"x": {"field": "g", "type": "quantitative"}, "y": {"field": "hi", "type": "quantitative"}}}
  ]},
 {"width": 185, "height": 191,
  "title": {"text": "e", "anchor": "start", "frame": "group", "dx": -58.3, "dy": 26, "offset": 0, "baseline": "alphabetic", "fontSize": 16, "fontWeight": "bold", "font": "Liberation Sans", "color": "black"},
  "layer": [
   {"data": {"values": [{"k": 0}]}, "mark": {"type": "rule", "color": "black", "strokeWidth": 2, "strokeCap": "square"}, "encoding": {"x": {"datum": 0.5, "type": "quantitative"}, "y": {"datum": 0, "type": "quantitative"}, "y2": {"datum": 3}}},
   {"data": {"values": [{"k": 0}]}, "mark": {"type": "rule", "color": "black", "strokeWidth": 2, "strokeCap": "square"}, "encoding": {"x": {"datum": 0.5, "type": "quantitative"}, "x2": {"datum": 4.5}, "y": {"datum": 0, "type": "quantitative"}}},
   {"data": {"name": "pts"}, "transform": [{"filter": "datum.p=='e' && (datum.g==1 || datum.g==3)"}],
    "mark": {"type": "point", "shape": "circle", "filled": false, "strokeWidth": 2.5, "size": 45, "opacity": 1},
    "encoding": {
     "x": {"field": "x", "type": "quantitative", "scale": {"domain": [0.414, 4.371], "nice": false, "zero": false},
      "axis": {"values": [1, 2, 3, 4], "labelExpr": "datum.value==1?['-','-']:datum.value==2?['+','-']:datum.value==3?['-','+']:['+','+']", "labelFontSize": 11, "labelPadding": 3, "labelLineHeight": 15, "title": ["30 min PhTx", "fed Cycloheximide"], "titleFontSize": 10.7, "titleLineHeight": 15, "titleAlign": "right", "titleBaseline": "top", "titleX": 17.7, "titleY": 8}},
     "y": {"field": "y", "type": "quantitative", "scale": {"domain": [0, 3], "nice": false, "zero": false},
      "axis": {"values": [0, 1, 2, 3], "format": "d", "offset": -4, "labelFontSize": 14, "labelPadding": 1, "title": "Normalized quantal content", "titleFontSize": 15, "titleX": -16.5, "titleY": 97.7, "titleBaseline": "middle", "titleAlign": "center", "titleAngle": 270}},
     "color": {"field": "g", "type": "ordinal", "legend": null}
    }},
   {"data": {"name": "pts"}, "transform": [{"filter": "datum.p=='e' && (datum.g==2 || datum.g==4)"}], "mark": {"type": "circle", "size": 65, "opacity": 1},
    "encoding": {"x": {"field": "x", "type": "quantitative"}, "y": {"field": "y", "type": "quantitative"}, "color": {"field": "g", "type": "ordinal", "legend": null}}},
   {"data": {"name": "sig"}, "transform": [{"filter": "datum.p=='e'"}], "mark": {"type": "rule", "color": "black", "strokeWidth": 2.5}, "encoding": {"x": {"field": "x1", "type": "quantitative"}, "x2": {"field": "x2"}, "y": {"field": "y", "type": "quantitative"}}},
   {"data": {"name": "sig"}, "transform": [{"filter": "datum.p=='e' && datum.s!='ns'"}], "mark": {"type": "text", "fontSize": 14, "fontWeight": "bold", "baseline": "alphabetic", "dy": 0, "color": "black"}, "encoding": {"x": {"field": "xm", "type": "quantitative"}, "y": {"field": "y", "type": "quantitative"}, "text": {"field": "s"}}},
   {"data": {"name": "stats"}, "transform": [{"filter": "datum.p=='e'"}], "mark": {"type": "rule", "color": "black", "strokeWidth": 2.5}, "encoding": {"x": {"field": "g", "type": "quantitative"}, "y": {"field": "lo", "type": "quantitative"}, "y2": {"field": "hi"}}},
   {"data": {"name": "stats"}, "transform": [{"filter": "datum.p=='e'"}], "mark": {"type": "tick", "orient": "horizontal", "size": 35, "thickness": 2.5, "color": "black"}, "encoding": {"x": {"field": "g", "type": "quantitative"}, "y": {"field": "m", "type": "quantitative"}}},
   {"data": {"name": "stats"}, "transform": [{"filter": "datum.p=='e'"}], "mark": {"type": "tick", "orient": "horizontal", "size": 19, "thickness": 2.5, "color": "black"}, "encoding": {"x": {"field": "g", "type": "quantitative"}, "y": {"field": "lo", "type": "quantitative"}}},
   {"data": {"name": "stats"}, "transform": [{"filter": "datum.p=='e'"}], "mark": {"type": "tick", "orient": "horizontal", "size": 19, "thickness": 2.5, "color": "black"}, "encoding": {"x": {"field": "g", "type": "quantitative"}, "y": {"field": "hi", "type": "quantitative"}}}
  ]},

 {"width": 45, "height": 1, "data": {"values": []}, "mark": "point"},
 {"width": 28, "height": 1, "data": {"values": []}, "mark": "point"},
 {"width": 263, "height": 277,
  "title": {"text": "f", "anchor": "start", "frame": "group", "dx": -39, "dy": 94.3, "offset": 0, "baseline": "alphabetic", "fontSize": 16, "fontWeight": "bold", "font": "Liberation Sans", "color": "black"},
  "layer": [
   {"data": {"values": [{"k": 0}]}, "mark": {"type": "rule", "color": "black", "strokeWidth": 2, "strokeCap": "square"}, "encoding": {"x": {"datum": 0.386, "type": "quantitative"}, "y": {"datum": 0, "type": "quantitative"}, "y2": {"datum": 1.5}}},
   {"data": {"values": [{"k": 0}]}, "mark": {"type": "rule", "color": "black", "strokeWidth": 2, "strokeCap": "square"}, "encoding": {"x": {"datum": 0.386, "type": "quantitative"}, "x2": {"datum": 4.38}, "y": {"datum": 0, "type": "quantitative"}}},
   {"data": {"name": "pts"}, "transform": [{"filter": "datum.p=='f' && (datum.g==1 || datum.g==3)"}],
    "mark": {"type": "point", "shape": "circle", "filled": false, "strokeWidth": 2.5, "size": 45, "opacity": 1},
    "encoding": {
     "x": {"field": "x", "type": "quantitative", "scale": {"domain": [0.386, 6.217], "nice": false, "zero": false},
      "axis": {"values": [1, 2, 3, 4], "labelExpr": "datum.value==1?['-','-']:datum.value==2?['+','-']:datum.value==3?['-','+']:['+','+']", "labelFontSize": 11, "labelPadding": 7.7, "labelLineHeight": 12.3, "title": ["30 min PhTx", "Cycloheximide"], "titleFontSize": 10.7, "titleLineHeight": 12.3, "titleAlign": "right", "titleBaseline": "top", "titleX": 14.5, "titleY": 12.7}},
     "y": {"field": "y", "type": "quantitative", "scale": {"domain": [0, 2.289], "nice": false, "zero": false},
      "axis": {"values": [0, 0.5, 1, 1.5], "format": ".1f", "labelFontSize": 14, "labelPadding": 1, "title": "Normalized mEPSP", "titleFontSize": 15, "titleX": -32.7, "titleY": 181.3, "titleBaseline": "middle", "titleAlign": "center", "titleAngle": 270}},
     "color": {"field": "g", "type": "ordinal", "legend": null}
    }},
   {"data": {"name": "pts"}, "transform": [{"filter": "datum.p=='f' && (datum.g==2 || datum.g==4)"}], "mark": {"type": "circle", "size": 65, "opacity": 1},
    "encoding": {"x": {"field": "x", "type": "quantitative"}, "y": {"field": "y", "type": "quantitative"}, "color": {"field": "g", "type": "ordinal", "legend": null}}},
   {"data": {"name": "sig"}, "transform": [{"filter": "datum.p=='f'"}], "mark": {"type": "rule", "color": "black", "strokeWidth": 2.5}, "encoding": {"x": {"field": "x1", "type": "quantitative"}, "x2": {"field": "x2"}, "y": {"field": "y", "type": "quantitative"}}},
   {"data": {"name": "sig"}, "transform": [{"filter": "datum.p=='f' && datum.s!='ns'"}], "mark": {"type": "text", "fontSize": 14, "fontWeight": "bold", "baseline": "alphabetic", "dy": 0, "color": "black"}, "encoding": {"x": {"field": "xm", "type": "quantitative"}, "y": {"field": "y", "type": "quantitative"}, "text": {"field": "s"}}},
   {"data": {"name": "stats"}, "transform": [{"filter": "datum.p=='f'"}], "mark": {"type": "rule", "color": "black", "strokeWidth": 2.5}, "encoding": {"x": {"field": "g", "type": "quantitative"}, "y": {"field": "lo", "type": "quantitative"}, "y2": {"field": "hi"}}},
   {"data": {"name": "stats"}, "transform": [{"filter": "datum.p=='f'"}], "mark": {"type": "tick", "orient": "horizontal", "size": 35, "thickness": 2.5, "color": "black"}, "encoding": {"x": {"field": "g", "type": "quantitative"}, "y": {"field": "m", "type": "quantitative"}}},
   {"data": {"name": "stats"}, "transform": [{"filter": "datum.p=='f'"}], "mark": {"type": "tick", "orient": "horizontal", "size": 19, "thickness": 2.5, "color": "black"}, "encoding": {"x": {"field": "g", "type": "quantitative"}, "y": {"field": "lo", "type": "quantitative"}}},
   {"data": {"name": "stats"}, "transform": [{"filter": "datum.p=='f'"}], "mark": {"type": "tick", "orient": "horizontal", "size": 19, "thickness": 2.5, "color": "black"}, "encoding": {"x": {"field": "g", "type": "quantitative"}, "y": {"field": "hi", "type": "quantitative"}}}
  ]},
 {"width": 259, "height": 277,
  "title": {"text": "g", "anchor": "start", "frame": "group", "dx": -46, "dy": 99.3, "offset": 0, "baseline": "alphabetic", "fontSize": 16, "fontWeight": "bold", "font": "Liberation Sans", "color": "black"},
  "layer": [
   {"data": {"values": [{"k": 0}]}, "mark": {"type": "rule", "color": "black", "strokeWidth": 2, "strokeCap": "square"}, "encoding": {"x": {"datum": 0.5, "type": "quantitative"}, "y": {"datum": 0, "type": "quantitative"}, "y2": {"datum": 1.5}}},
   {"data": {"values": [{"k": 0}]}, "mark": {"type": "rule", "color": "black", "strokeWidth": 2, "strokeCap": "square"}, "encoding": {"x": {"datum": 0.5, "type": "quantitative"}, "x2": {"datum": 4.5}, "y": {"datum": 0, "type": "quantitative"}}},
   {"data": {"name": "pts"}, "transform": [{"filter": "datum.p=='g' && (datum.g==1 || datum.g==3)"}],
    "mark": {"type": "point", "shape": "circle", "filled": false, "strokeWidth": 2.5, "size": 45, "opacity": 1},
    "encoding": {
     "x": {"field": "x", "type": "quantitative", "scale": {"domain": [0.2936, 6.011], "nice": false, "zero": false},
      "axis": {"values": [1, 2, 3, 4], "labelExpr": "datum.value==1?['-','-']:datum.value==2?['+','-']:datum.value==3?['-','+']:['+','+']", "labelFontSize": 11, "labelPadding": 7.7, "labelLineHeight": 13.3, "title": ["30 min PhTx", "Cycloheximide"], "titleFontSize": 10.7, "titleLineHeight": 13.3, "titleAlign": "right", "titleBaseline": "top", "titleX": 20.3, "titleY": 12.7}},
     "y": {"field": "y", "type": "quantitative", "scale": {"domain": [0, 2.289], "nice": false, "zero": false},
      "axis": {"values": [0, 0.5, 1, 1.5], "format": ".1f", "offset": -9.3, "labelFontSize": 14, "labelPadding": 1, "title": "Normalized eEPSP", "titleFontSize": 15, "titleX": -42.2, "titleY": 184.7, "titleBaseline": "middle", "titleAlign": "center", "titleAngle": 270}},
     "color": {"field": "g", "type": "ordinal", "legend": null}
    }},
   {"data": {"name": "pts"}, "transform": [{"filter": "datum.p=='g' && (datum.g==2 || datum.g==4)"}], "mark": {"type": "circle", "size": 65, "opacity": 1},
    "encoding": {"x": {"field": "x", "type": "quantitative"}, "y": {"field": "y", "type": "quantitative"}, "color": {"field": "g", "type": "ordinal", "legend": null}}},
   {"data": {"name": "sig"}, "transform": [{"filter": "datum.p=='g'"}], "mark": {"type": "rule", "color": "black", "strokeWidth": 2.5}, "encoding": {"x": {"field": "x1", "type": "quantitative"}, "x2": {"field": "x2"}, "y": {"field": "y", "type": "quantitative"}}},
   {"data": {"name": "sig"}, "transform": [{"filter": "datum.p=='g' && datum.s=='ns'"}], "mark": {"type": "text", "fontSize": 16, "fontWeight": "bold", "baseline": "alphabetic", "dy": -4.8, "color": "black"}, "encoding": {"x": {"field": "xm", "type": "quantitative"}, "y": {"field": "y", "type": "quantitative"}, "text": {"field": "s"}}},
   {"data": {"name": "stats"}, "transform": [{"filter": "datum.p=='g'"}], "mark": {"type": "rule", "color": "black", "strokeWidth": 2.5}, "encoding": {"x": {"field": "g", "type": "quantitative"}, "y": {"field": "lo", "type": "quantitative"}, "y2": {"field": "hi"}}},
   {"data": {"name": "stats"}, "transform": [{"filter": "datum.p=='g'"}], "mark": {"type": "tick", "orient": "horizontal", "size": 35, "thickness": 2.5, "color": "black"}, "encoding": {"x": {"field": "g", "type": "quantitative"}, "y": {"field": "m", "type": "quantitative"}}},
   {"data": {"name": "stats"}, "transform": [{"filter": "datum.p=='g'"}], "mark": {"type": "tick", "orient": "horizontal", "size": 19, "thickness": 2.5, "color": "black"}, "encoding": {"x": {"field": "g", "type": "quantitative"}, "y": {"field": "lo", "type": "quantitative"}}},
   {"data": {"name": "stats"}, "transform": [{"filter": "datum.p=='g'"}], "mark": {"type": "tick", "orient": "horizontal", "size": 19, "thickness": 2.5, "color": "black"}, "encoding": {"x": {"field": "g", "type": "quantitative"}, "y": {"field": "hi", "type": "quantitative"}}}
  ]},
 {"width": 185, "height": 281,
  "title": {"text": "h", "anchor": "start", "frame": "group", "dx": -58.3, "dy": 100.6, "offset": 0, "baseline": "alphabetic", "fontSize": 16, "fontWeight": "bold", "font": "Liberation Sans", "color": "black"},
  "layer": [
   {"data": {"values": [{"k": 0}]}, "mark": {"type": "rule", "color": "black", "strokeWidth": 2, "strokeCap": "square"}, "encoding": {"x": {"datum": 0.4915, "type": "quantitative"}, "y": {"datum": 0, "type": "quantitative"}, "y2": {"datum": 4}}},
   {"data": {"values": [{"k": 0}]}, "mark": {"type": "rule", "color": "black", "strokeWidth": 2, "strokeCap": "square"}, "encoding": {"x": {"datum": 0.4915, "type": "quantitative"}, "x2": {"datum": 4.5}, "y": {"datum": 0, "type": "quantitative"}}},
   {"data": {"name": "pts"}, "transform": [{"filter": "datum.p=='h' && (datum.g==1 || datum.g==3)"}],
    "mark": {"type": "point", "shape": "circle", "filled": false, "strokeWidth": 2.5, "size": 45, "opacity": 1},
    "encoding": {
     "x": {"field": "x", "type": "quantitative", "scale": {"domain": [0.4915, 4.411], "nice": false, "zero": false},
      "axis": {"values": [1, 2, 3, 4], "labelExpr": "datum.value==1?['-','-']:datum.value==2?['+','-']:datum.value==3?['-','+']:['+','+']", "labelFontSize": 11, "labelPadding": 8.4, "labelLineHeight": 14.3, "title": ["30 min PhTx", "Cycloheximide"], "titleFontSize": 10.7, "titleLineHeight": 14.3, "titleAlign": "right", "titleBaseline": "top", "titleX": 16.7, "titleY": 13.4}},
     "y": {"field": "y", "type": "quantitative", "scale": {"domain": [0, 5.916], "nice": false, "zero": false},
      "axis": {"values": [0, 1, 2, 3, 4], "format": "d", "labelFontSize": 14, "labelPadding": 1, "title": "Normalized quantal content", "titleFontSize": 15, "titleX": -9.5, "titleY": 192.2, "titleBaseline": "middle", "titleAlign": "center", "titleAngle": 270}},
     "color": {"field": "g", "type": "ordinal", "legend": null}
    }},
   {"data": {"name": "pts"}, "transform": [{"filter": "datum.p=='h' && (datum.g==2 || datum.g==4)"}], "mark": {"type": "circle", "size": 65, "opacity": 1},
    "encoding": {"x": {"field": "x", "type": "quantitative"}, "y": {"field": "y", "type": "quantitative"}, "color": {"field": "g", "type": "ordinal", "legend": null}}},
   {"data": {"name": "sig"}, "transform": [{"filter": "datum.p=='h'"}], "mark": {"type": "rule", "color": "black", "strokeWidth": 2.5}, "encoding": {"x": {"field": "x1", "type": "quantitative"}, "x2": {"field": "x2"}, "y": {"field": "y", "type": "quantitative"}}},
   {"data": {"name": "sig"}, "transform": [{"filter": "datum.p=='h' && datum.s!='ns'"}], "mark": {"type": "text", "fontSize": 14, "fontWeight": "bold", "baseline": "alphabetic", "dy": 0, "color": "black"}, "encoding": {"x": {"field": "xm", "type": "quantitative"}, "y": {"field": "y", "type": "quantitative"}, "text": {"field": "s"}}},
   {"data": {"name": "stats"}, "transform": [{"filter": "datum.p=='h'"}], "mark": {"type": "rule", "color": "black", "strokeWidth": 2.5}, "encoding": {"x": {"field": "g", "type": "quantitative"}, "y": {"field": "lo", "type": "quantitative"}, "y2": {"field": "hi"}}},
   {"data": {"name": "stats"}, "transform": [{"filter": "datum.p=='h'"}], "mark": {"type": "tick", "orient": "horizontal", "size": 35, "thickness": 2.5, "color": "black"}, "encoding": {"x": {"field": "g", "type": "quantitative"}, "y": {"field": "m", "type": "quantitative"}}},
   {"data": {"name": "stats"}, "transform": [{"filter": "datum.p=='h'"}], "mark": {"type": "tick", "orient": "horizontal", "size": 19, "thickness": 2.5, "color": "black"}, "encoding": {"x": {"field": "g", "type": "quantitative"}, "y": {"field": "lo", "type": "quantitative"}}},
   {"data": {"name": "stats"}, "transform": [{"filter": "datum.p=='h'"}], "mark": {"type": "tick", "orient": "horizontal", "size": 19, "thickness": 2.5, "color": "black"}, "encoding": {"x": {"field": "g", "type": "quantitative"}, "y": {"field": "hi", "type": "quantitative"}}}
  ]}
]
}
